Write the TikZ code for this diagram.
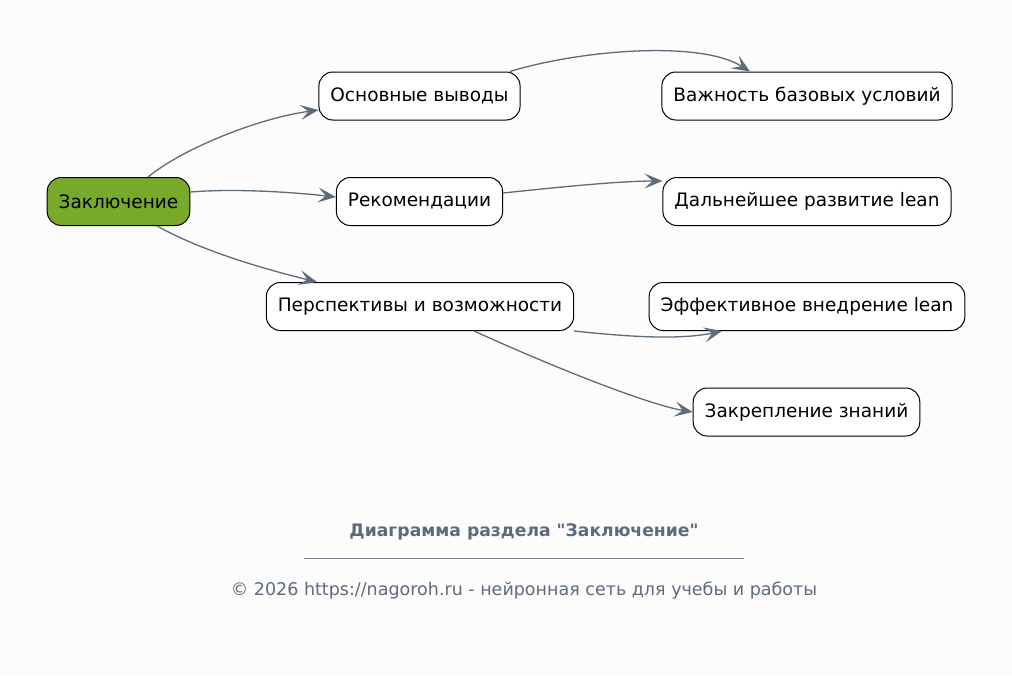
\documentclass[tikz,border=0pt]{standalone}
\usepackage{fontspec}
\setmainfont{DejaVu Sans}
\usetikzlibrary{arrows.meta}
\definecolor{bgpage}{RGB}{252,252,252}
\definecolor{rootgreen}{RGB}{120,169,43}
\definecolor{edgegray}{RGB}{94,107,122}

\begin{document}
\begin{tikzpicture}[
  x=1pt, y=-1pt,
  every node/.style={font=\fontsize{18.5}{22}\selectfont},
  topic/.style={draw, line width=1pt, rounded corners=14pt, fill=white,
                minimum height=48pt, inner xsep=11.5pt},
  link/.style={-{Stealth[length=18pt, width=15pt, inset=8pt]}, line width=1.3pt, edgegray}
]

\fill[bgpage] (0,0) rectangle (1012,675);
\useasboundingbox (0,0) rectangle (1012,675);

\node[topic, fill=rootgreen] (zak) at (118.5, 201.5) {Заключение};

\node[topic] (osn) at (419.5, 96) {Основные выводы};
\node[topic] (rek) at (419.5, 201.5) {Рекомендации};
\node[topic] (per) at (420, 306.5) {Перспективы и возможности};

\node[topic] (vaz) at (807, 96) {Важность базовых условий};
\node[topic] (dal) at (807, 201.5) {Дальнейшее развитие lean};
\node[topic] (eff) at (807, 306.5) {Эффективное внедрение lean};
\node[topic] (zkr) at (806.5, 412) {Закрепление знаний};

\draw[link] ([xshift=29.5pt]zak.north) .. controls (185,147) and (260,118) .. ([yshift=-14pt]osn.west);
\draw[link] ([yshift=9.5pt]zak.east) .. controls (240,188) and (300,193) .. ([yshift=4.5pt]rek.west);
\draw[link] ([xshift=38.5pt]zak.south) .. controls (200,250) and (260,268) .. ([xshift=-103pt]per.north);

\draw[link] ([xshift=90.5pt]osn.north) .. controls (580,50) and (700,40) .. ([xshift=-57pt]vaz.north);
\draw[link] ([yshift=8.5pt]rek.east) .. controls (560,187) and (620,181) .. ([yshift=20.5pt]dal.west);
\draw[link] (per.south east) .. controls (630,337) and (680,340) .. ([xshift=-85pt]eff.south);
\draw[link] ([xshift=54pt]per.south) .. controls (560,370) and (650,405) .. (zkr.west);

% caption
\node[text=edgegray, font=\bfseries\fontsize{17.2}{20}\selectfont] (cap) at (524, 532)
  {Диаграмма раздела \textquotedbl Заключение\textquotedbl};
\draw[edgegray!80, line width=0.6pt] (304, 558) -- (744, 558);
\node[text=edgegray, font=\fontsize{17.5}{20}\selectfont] (foot) at (524, 591)
  {© 2026 https://nagoroh.ru - нейронная сеть для учебы и работы};

\end{tikzpicture}
\end{document}
